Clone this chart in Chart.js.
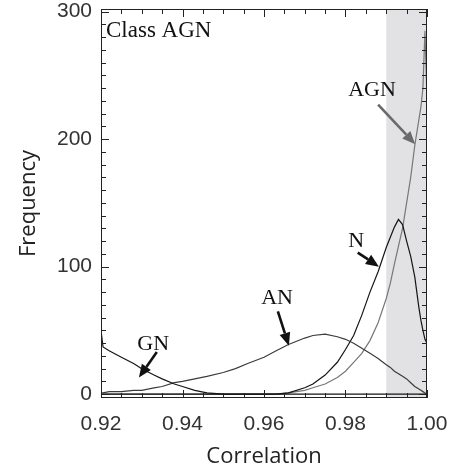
<!DOCTYPE html>
<html>
<head>
<meta charset="utf-8">
<script src="https://cdn.jsdelivr.net/npm/chart.js@4.4.0/dist/chart.umd.min.js"></script>
<style>
  html, body { margin: 0; padding: 0; background: #fff; }
</style>
</head>
<body>
<canvas id="hist" width="449" height="475"></canvas>
<script>
// correlation bins (x) and the frequency of each class
const corr = [0.920, 0.9205, 0.922, 0.925, 0.928, 0.930, 0.933, 0.935, 0.938, 0.940,
  0.943, 0.946, 0.950, 0.953, 0.956, 0.960, 0.963, 0.966, 0.970, 0.972,
  0.975, 0.978, 0.980, 0.982, 0.984, 0.986, 0.988, 0.990, 0.991, 0.992,
  0.993, 0.994, 0.995, 0.996, 0.997, 0.998, 0.9985, 0.999, 0.9995, 1.000]
const gn = [50, 37, 34, 29, 24, 20, 15, 12, 8, 6,
  3, 1, 0, 0, 0, 0, 0, 0, 0, 0,
  0, 0, 0, 0, 0, 0, 0, 0, 0, 0,
  0, 0, 0, 0, 0, 0, 0, 0, 0, 0]
const an = [1, 1, 2, 2, 3, 3, 5, 6, 9, 10,
  12, 14, 17, 20, 24, 29, 34, 39, 44, 46,
  47, 45, 43, 40, 36, 32, 28, 23, 21, 18,
  16, 14, 12, 9, 6, 4, 3, 2, 1, 0]
const nn = [0, 0, 0, 0, 0, 0, 0, 0, 0, 0,
  0, 0, 0, 0, 0, 0, 0, 1, 5, 8,
  15, 25, 35, 46, 62, 80, 96, 115, 123, 131,
  137, 133, 120, 108, 92, 68, 58, 50, 43, 40]
const agn = [0, 0, 0, 0, 0, 0, 0, 0, 0, 0,
  0, 0, 0, 0, 0, 0, 0, 1, 3, 5,
  8, 13, 18, 25, 32, 42, 56, 75, 87, 102,
  116, 130, 150, 170, 195, 215, 225, 240, 285, 230]

const xTicks = [0.92, 0.94, 0.96, 0.98, 1.00]
const yTicks = [0, 100, 200, 300]
const band = [0.99, 1.00]

// curve labels with arrows, in data units
const notes = [
  { text: 'AGN', at: [0.9865, 238], from: [0.9880, 227], to: [0.9971, 196], color: '#6a6a6a' },
  { text: 'N', at: [0.9826, 120], from: [0.9830, 111], to: [0.9882, 100], color: '#111' },
  { text: 'AN', at: [0.9632, 75], from: [0.9634, 65], to: [0.9661, 38], color: '#111' },
  { text: 'GN', at: [0.9328, 39], from: [0.9337, 33], to: [0.9293, 13], color: '#111' }
]

const pts = vals => corr.map((c, i) => ({ x: c, y: vals[i] }))

const line = (vals, color) => ({
  data: pts(vals),
  borderColor: color,
  borderWidth: 1.2,
  pointRadius: 0,
  showLine: true,
  tension: 0
})

const noPad = s => {
  s.paddingLeft = 0
  s.paddingRight = 0
  s.paddingTop = 0
  s.paddingBottom = 0
}

const arrow = (ctx, x0, y0, x1, y1, color) => {
  const a = Math.atan2(y1 - y0, x1 - x0)
  const len = 13, w = 5.5
  const bx = x1 - len * Math.cos(a), by = y1 - len * Math.sin(a)
  ctx.strokeStyle = color
  ctx.fillStyle = color
  ctx.lineWidth = 2.6
  ctx.beginPath()
  ctx.moveTo(x0, y0)
  ctx.lineTo(bx, by)
  ctx.stroke()
  ctx.beginPath()
  ctx.moveTo(x1, y1)
  ctx.lineTo(bx + w * Math.sin(a), by - w * Math.cos(a))
  ctx.lineTo(bx - w * Math.sin(a), by + w * Math.cos(a))
  ctx.closePath()
  ctx.fill()
}

const framePlugin = {
  id: 'frame',
  beforeDatasetsDraw(chart) {
    const { ctx, chartArea: a, scales: { x } } = chart
    ctx.save()
    ctx.fillStyle = '#e2e2e4'
    const x0 = x.getPixelForValue(band[0]), x1 = x.getPixelForValue(band[1])
    ctx.fillRect(x0, a.top, x1 - x0, a.bottom - a.top)
    ctx.restore()
  },
  afterDatasetsDraw(chart) {
    const { ctx, chartArea: a, scales: { x, y } } = chart
    ctx.save()
    ctx.strokeStyle = '#222'
    ctx.lineWidth = 1
    ctx.strokeRect(a.left + 0.5, a.top + 0.5, a.right - a.left - 1, a.bottom - a.top - 1)

    // inward ticks on all four sides
    ctx.beginPath()
    for (let i = 0; i <= 16; i++) {
      const px = Math.round(x.getPixelForValue(0.92 + i * 0.005)) + 0.5
      const l = i % 4 === 0 ? 8 : 5
      ctx.moveTo(px, a.bottom); ctx.lineTo(px, a.bottom - l)
      ctx.moveTo(px, a.top); ctx.lineTo(px, a.top + l)
    }
    for (let v = 0; v <= 300; v += 10) {
      const py = Math.round(y.getPixelForValue(v)) + 0.5
      const l = v % 100 === 0 ? 8 : 5
      ctx.moveTo(a.left, py); ctx.lineTo(a.left + l, py)
      ctx.moveTo(a.right, py); ctx.lineTo(a.right - l, py)
    }
    ctx.stroke()

    ctx.font = '23px "Liberation Serif", "Times New Roman", serif'
    ctx.textBaseline = 'middle'
    ctx.textAlign = 'left'
    ctx.fillStyle = '#111'
    ctx.fillText('Class AGN', a.left + 5, a.top + 22)

    ctx.font = '22px "Liberation Serif", "Times New Roman", serif'
    ctx.textAlign = 'center'
    notes.forEach(n => {
      arrow(ctx, x.getPixelForValue(n.from[0]), y.getPixelForValue(n.from[1]),
        x.getPixelForValue(n.to[0]), y.getPixelForValue(n.to[1]), n.color)
      ctx.fillStyle = '#111'
      ctx.fillText(n.text, x.getPixelForValue(n.at[0]), y.getPixelForValue(n.at[1]))
    })
    ctx.restore()
  }
}

new Chart(document.getElementById('hist'), {
  type: 'scatter',
  data: {
    datasets: [
      line(gn, '#151515'),
      line(an, '#3c3c3c'),
      line(nn, '#151515'),
      line(agn, '#777777')
    ]
  },
  options: {
    responsive: false,
    animation: false,
    layout: { padding: { top: 9, right: 22, left: 0, bottom: 0 } },
    plugins: { legend: { display: false }, tooltip: { enabled: false } },
    scales: {
      x: {
        type: 'linear',
        min: 0.92,
        max: 1.0,
        afterBuildTicks: s => { s.ticks = xTicks.map(v => ({ value: v })) },
        afterFit: s => { s.height = 77; noPad(s) },
        grid: { display: false, drawTicks: false },
        border: { display: false },
        ticks: {
          callback: v => v.toFixed(2),
          color: '#333',
          padding: 14,
          maxRotation: 0,
          font: { family: '"Liberation Sans", Arial, sans-serif', size: 21 }
        },
        title: {
          display: true,
          text: 'Correlation',
          color: '#222',
          padding: { top: 0, bottom: 5 },
          font: { family: '"Open Sans", sans-serif', size: 22 }
        }
      },
      y: {
        type: 'linear',
        min: -3,
        max: 302,
        afterBuildTicks: s => { s.ticks = yTicks.map(v => ({ value: v })) },
        afterFit: s => { s.width = 101; noPad(s) },
        grid: { display: false, drawTicks: false },
        border: { display: false },
        ticks: {
          color: '#333',
          padding: 9,
          font: { family: '"Liberation Sans", Arial, sans-serif', size: 21 }
        },
        title: {
          display: true,
          text: 'Frequency',
          color: '#222',
          padding: { top: 16, bottom: 16 },
          font: { family: '"Open Sans", sans-serif', size: 22 }
        }
      }
    }
  },
  plugins: [framePlugin]
})
</script>
</body>
</html>
